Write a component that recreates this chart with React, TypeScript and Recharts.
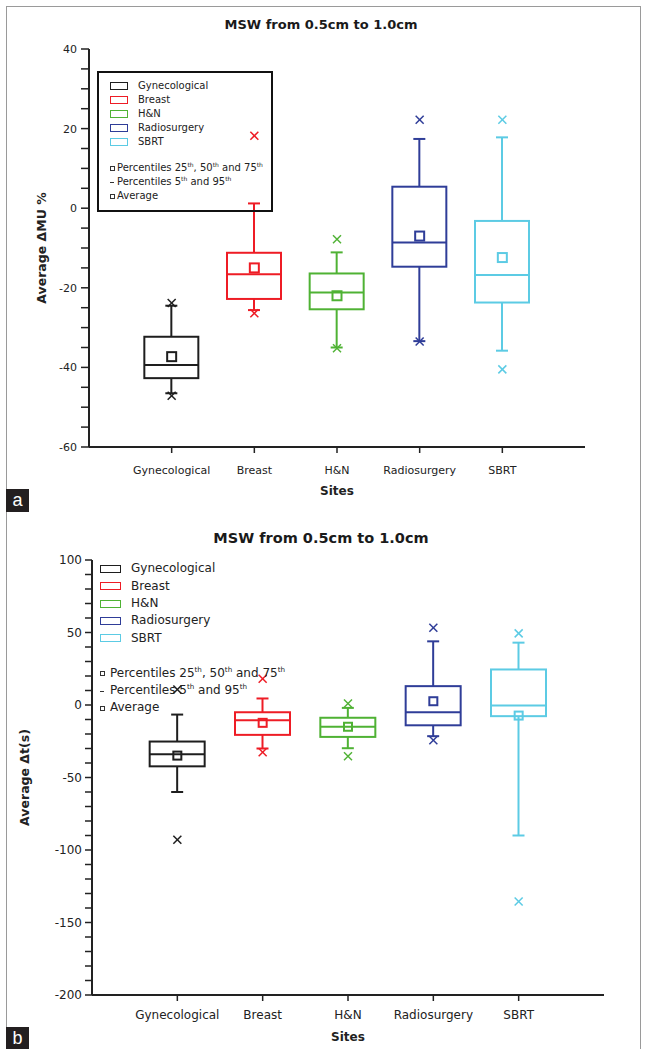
import React from 'react';
import { ComposedChart, Bar, Scatter, XAxis, YAxis, Legend, Label } from 'recharts';

const SITES = ['Gynecological', 'Breast', 'H&N', 'Radiosurgery', 'SBRT'];

const SITE_COLORS: Record<string, string> = {
  Gynecological: '#1e1e1e',
  Breast: '#ee1c25',
  'H&N': '#4fb234',
  Radiosurgery: '#2f3d98',
  SBRT: '#5ccbe4',
};

// (a) Average ΔMU %
const MU_P5 = [-46.5, -25.6, -35, -33.4, -35.8];
const MU_Q1 = [-42.7, -22.8, -25.4, -14.7, -23.7];
const MU_MEDIAN = [-39.4, -16.6, -21.2, -8.6, -16.8];
const MU_Q3 = [-32.3, -11.2, -16.4, 5.4, -3.2];
const MU_P95 = [-24.5, 1.2, -11.1, 17.4, 17.8];
const MU_MEAN = [-37.3, -15, -22, -7, -12.4];
const MU_MIN = [-47.1, -26.4, -35.2, -33.5, -40.5];
const MU_MAX = [-23.8, 18.2, -7.8, 22.2, 22.2];
const MU_TICKS = [-60, -40, -20, 0, 20, 40];

// (b) Average Δt(s)
const T_P5 = [-60, -30, -29.8, -21.5, -90];
const T_Q1 = [-42.3, -20.6, -22, -14, -7.7];
const T_MEDIAN = [-34, -10.5, -15, -5, -0.3];
const T_Q3 = [-25.2, -5, -8.8, 13, 24.5];
const T_P95 = [-6.6, 4.5, -2, 43.9, 43];
const T_MEAN = [-34.9, -12.3, -15, 2.6, -7.3];
const T_MIN = [-92.9, -32.6, -35.4, -24.3, -135.5];
const T_MAX = [10.7, 18.1, 1, 53.3, 49.4];
const T_TICKS = [-200, -150, -100, -50, 0, 50, 100];

const steps = (from: number, to: number, step: number) => {
  const out: number[] = [];
  for (let v = from; v <= to; v += step) out.push(v);
  return out;
};

const rowsOf = (p5: number[], q1: number[], median: number[], q3: number[], p95: number[], mean: number[], min: (number | null)[], max: (number | null)[]) =>
  SITES.map((name, i) => ({
    name,
    p5: p5[i],
    q1: q1[i],
    median: median[i],
    q3: q3[i],
    p95: p95[i],
    mean: mean[i],
    min: min[i],
    max: max[i],
  }));

const MU_ROWS = rowsOf(MU_P5, MU_Q1, MU_MEDIAN, MU_Q3, MU_P95, MU_MEAN, MU_MIN, MU_MAX);
const T_ROWS = rowsOf(T_P5, T_Q1, T_MEDIAN, T_Q3, T_P95, T_MEAN, T_MIN, T_MAX);

// ---- shapes ----
const makeWhisker = (cap: number) => (props: any) => {
  const { x, y, width, height, payload } = props;
  const color = SITE_COLORS[payload.name];
  const cx = x + width / 2;
  const top = Math.min(y, y + height);
  const bottom = Math.max(y, y + height);
  return (
    <g stroke={color} strokeWidth={2}>
      <line x1={cx} x2={cx} y1={top} y2={bottom} />
      <line x1={cx - cap / 2} x2={cx + cap / 2} y1={top} y2={top} />
      <line x1={cx - cap / 2} x2={cx + cap / 2} y1={bottom} y2={bottom} />
    </g>
  );
};

const BoxShape = (props: any) => {
  const { x, y, width, height, payload } = props;
  const top = Math.min(y, y + height);
  return (
    <rect x={x} y={top} width={width} height={Math.abs(height)} fill="#fff" stroke={SITE_COLORS[payload.name]} strokeWidth={2} />
  );
};

const makeMedian = (w: number) => (props: any) => {
  const { cx, cy, payload } = props;
  if (payload.median == null) return <g />;
  return <line x1={cx - w / 2} x2={cx + w / 2} y1={cy} y2={cy} stroke={SITE_COLORS[payload.name]} strokeWidth={2} />;
};

const makeMean = (s: number) => (props: any) => {
  const { cx, cy, payload } = props;
  if (payload.mean == null) return <g />;
  return <rect x={cx - s / 2} y={cy - s / 2} width={s} height={s} fill="none" stroke={SITE_COLORS[payload.name]} strokeWidth={2} />;
};

const makeCross = (key: 'min' | 'max', s: number) => (props: any) => {
  const { cx, cy, payload } = props;
  if (payload[key] == null) return <g />;
  const h = s / 2;
  return (
    <g stroke={SITE_COLORS[payload.name]} strokeWidth={1.5}>
      <line x1={cx - h} x2={cx + h} y1={cy - h} y2={cy + h} />
      <line x1={cx - h} x2={cx + h} y1={cy + h} y2={cy - h} />
    </g>
  );
};

// ---- legend ----
type LegendLayout = {
  fontSize: number;
  rowH: number;
  firstTop: number;
  swatchLeft: number;
  swatchW: number;
  swatchH: number;
  textLeft: number;
  notesTop: number;
  noteLeft: number;
  noteTextLeft: number;
  border: boolean;
};

const Sup = ({ children }: { children: React.ReactNode }) => (
  <sup style={{ fontSize: '0.6em', lineHeight: 0, verticalAlign: 'super' }}>{children}</sup>
);

const SiteLegend = ({ l }: { l: LegendLayout }) => {
  const mark = (kind: 'square' | 'dash') =>
    kind === 'square' ? (
      <span style={{ position: 'absolute', left: l.noteLeft, top: l.rowH / 2 - 2, width: 5, height: 5, border: '1px solid #333', boxSizing: 'border-box' }} />
    ) : (
      <span style={{ position: 'absolute', left: l.noteLeft, top: l.rowH / 2, width: 4, height: 1.2, background: '#333' }} />
    );
  return (
    <div
      style={{
        position: 'relative',
        width: '100%',
        height: '100%',
        boxSizing: 'border-box',
        border: l.border ? '2px solid #111' : 'none',
        fontSize: l.fontSize,
        color: '#222',
        lineHeight: `${l.rowH}px`,
        whiteSpace: 'nowrap',
      }}
    >
      {SITES.map((s, i) => (
        <div key={s} style={{ position: 'absolute', left: 0, top: l.firstTop + i * l.rowH, height: l.rowH, width: '100%' }}>
          <span
            style={{
              position: 'absolute',
              left: l.swatchLeft,
              top: (l.rowH - l.swatchH) / 2,
              width: l.swatchW,
              height: l.swatchH,
              border: `1.5px solid ${SITE_COLORS[s]}`,
              boxSizing: 'border-box',
            }}
          />
          <span style={{ position: 'absolute', left: l.textLeft }}>{s}</span>
        </div>
      ))}
      <div style={{ position: 'absolute', left: 0, top: l.notesTop, height: l.rowH, width: '100%' }}>
        {mark('square')}
        <span style={{ position: 'absolute', left: l.noteTextLeft }}>
          Percentiles 25<Sup>th</Sup>, 50<Sup>th</Sup> and 75<Sup>th</Sup>
        </span>
      </div>
      <div style={{ position: 'absolute', left: 0, top: l.notesTop + l.rowH, height: l.rowH, width: '100%' }}>
        {mark('dash')}
        <span style={{ position: 'absolute', left: l.noteTextLeft }}>
          Percentiles 5<Sup>th</Sup> and 95<Sup>th</Sup>
        </span>
      </div>
      <div style={{ position: 'absolute', left: 0, top: l.notesTop + 2 * l.rowH, height: l.rowH, width: '100%' }}>
        {mark('square')}
        <span style={{ position: 'absolute', left: l.noteTextLeft }}>Average</span>
      </div>
    </div>
  );
};

// ---- panel ----
type PanelProps = {
  top: number;
  height: number;
  margin: { top: number; right: number; bottom: number; left: number };
  yWidth: number;
  xHeight: number;
  domain: [number, number];
  minorTicks: number[];
  majorTicks: number[];
  rows: any[];
  yLabel: string;
  yLabelOffset: number;
  fontSize: number;
  labelSize: number;
  yTickSize: number;
  yTickMargin: number;
  xTickMargin: number;
  sitesOffset: number;
  boxWidth: number;
  meanSize: number;
  crossSize: number;
  legend: LegendLayout;
  legendStyle: React.CSSProperties;
};

const Panel = (p: PanelProps) => {
  const plotWidth = 645 - p.margin.left - p.margin.right - p.yWidth;
  const pad = plotWidth / 12;
  return (
    <div style={{ position: 'absolute', left: 0, top: p.top }}>
      <ComposedChart width={645} height={p.height} data={p.rows} margin={p.margin} barGap={-p.boxWidth}>
        <XAxis
          dataKey="name"
          type="category"
          interval={0}
          padding={{ left: pad, right: pad }}
          height={p.xHeight}
          tickSize={6}
          tickMargin={p.xTickMargin}
          axisLine={{ stroke: '#222', strokeWidth: 2 }}
          tickLine={{ stroke: '#222', strokeWidth: 1.5 }}
          tick={{ fontSize: p.fontSize, fill: '#222' }}
        >
          <Label value="Sites" position="insideBottom" offset={p.sitesOffset} style={{ fontWeight: 700, fontSize: p.labelSize - 0.5, fill: '#222' }} />
        </XAxis>
        <XAxis
          xAxisId="top"
          dataKey="name"
          type="category"
          orientation="top"
          interval={0}
          padding={{ left: pad, right: pad }}
          height={0}
          mirror
          tick={false}
          tickSize={6}
          axisLine={{ stroke: '#8a8a8a', strokeWidth: 1.5 }}
          tickLine={{ stroke: '#333', strokeWidth: 1.5 }}
        />
        <YAxis
          type="number"
          domain={p.domain}
          ticks={p.minorTicks}
          interval={0}
          width={p.yWidth}
          tickSize={p.yTickSize}
          tickMargin={p.yTickMargin}
          tickFormatter={(v: number) => (p.majorTicks.includes(v) ? String(v) : '')}
          axisLine={{ stroke: '#222', strokeWidth: 2 }}
          tickLine={{ stroke: '#222', strokeWidth: 1.5 }}
          tick={{ fontSize: p.fontSize, fill: '#222' }}
        >
          <Label
            value={p.yLabel}
            angle={-90}
            position="insideLeft"
            offset={p.yLabelOffset}
            style={{ textAnchor: 'middle', fontWeight: 700, fontSize: p.labelSize, fill: '#222' }}
          />
        </YAxis>
        <YAxis
          yAxisId="right"
          type="number"
          orientation="right"
          domain={p.domain}
          ticks={p.majorTicks}
          interval={0}
          width={0}
          mirror
          tick={false}
          tickSize={6}
          axisLine={{ stroke: '#333', strokeWidth: 2 }}
          tickLine={{ stroke: '#333', strokeWidth: 1.5 }}
        />
        <Legend
          layout="vertical"
          align="center"
          verticalAlign="middle"
          wrapperStyle={p.legendStyle}
          content={() => <SiteLegend l={p.legend} />}
        />
        <Bar dataKey={(d: any) => [d.p5, d.p95]} barSize={p.boxWidth} shape={makeWhisker(12)} isAnimationActive={false} />
        <Bar dataKey={(d: any) => [d.q1, d.q3]} barSize={p.boxWidth} shape={BoxShape} isAnimationActive={false} />
        <Scatter dataKey="median" shape={makeMedian(p.boxWidth)} isAnimationActive={false} />
        <Scatter dataKey="mean" shape={makeMean(p.meanSize)} isAnimationActive={false} />
        <Scatter dataKey="max" shape={makeCross('max', p.crossSize)} isAnimationActive={false} />
        <Scatter dataKey="min" shape={makeCross('min', p.crossSize)} isAnimationActive={false} />
      </ComposedChart>
    </div>
  );
};

const Title = ({ y, size }: { y: number; size: number }) => (
  <div style={{ position: 'absolute', left: 0, width: 642, top: y - 10, height: 20, lineHeight: '20px', textAlign: 'center', fontWeight: 700, fontSize: size, color: '#1a1a1a' }}>
    MSW from 0.5cm to 1.0cm
  </div>
);

const PanelTag = ({ text, top, h }: { text: string; top: number; h: number }) => (
  <div style={{ position: 'absolute', left: 6, top, width: 23, height: h, background: '#231f20', color: '#fff', fontFamily: 'Liberation Sans, Arial, sans-serif', fontSize: 18, lineHeight: `${h}px`, textAlign: 'center' }}>
    {text}
  </div>
);

export default function App() {
  return (
    <div
      style={{
        position: 'absolute',
        left: 0,
        top: 0,
        width: 645,
        height: 1049,
        background: '#fff',
        overflow: 'hidden',
        fontFamily: '"DejaVu Sans", Verdana, sans-serif',
      }}
    >
      <div style={{ position: 'absolute', left: 6, top: 6, width: 635, height: 1100, border: '1.5px solid #9a9a9a', boxSizing: 'border-box' }} />
      <Title y={25} size={13} />
      <Panel
        top={0}
        height={510}
        margin={{ top: 49, right: 60, bottom: 13, left: 0 }}
        yWidth={89}
        xHeight={50}
        domain={[-60, 40]}
        minorTicks={steps(-60, 40, 5)}
        majorTicks={MU_TICKS}
        rows={MU_ROWS}
        yLabel="Average ΔMU %"
        yLabelOffset={42}
        fontSize={11}
        labelSize={12.5}
        yTickSize={8}
        yTickMargin={4}
        xTickMargin={13}
        sitesOffset={2}
        boxWidth={54}
        meanSize={9}
        crossSize={8}
        legend={{
          fontSize: 10,
          rowH: 14,
          firstTop: 6,
          swatchLeft: 11,
          swatchW: 18,
          swatchH: 8,
          textLeft: 39,
          notesTop: 88,
          noteLeft: 11,
          noteTextLeft: 18,
          border: true,
        }}
        legendStyle={{ left: 97, top: 71, width: 176, height: 141 }}
      />
      <Title y={538} size={14.5} />
      <Panel
        top={515}
        height={534}
        margin={{ top: 45, right: 41, bottom: 4, left: 0 }}
        yWidth={92}
        xHeight={50}
        domain={[-200, 100]}
        minorTicks={steps(-200, 100, 10)}
        majorTicks={T_TICKS}
        rows={T_ROWS}
        yLabel="Average Δt(s)"
        yLabelOffset={25}
        fontSize={12}
        labelSize={12.5}
        yTickSize={7}
        yTickMargin={3}
        xTickMargin={9}
        sitesOffset={4}
        boxWidth={55}
        meanSize={8}
        crossSize={8}
        legend={{
          fontSize: 12,
          rowH: 17.3,
          firstTop: 5.4,
          swatchLeft: 2,
          swatchW: 21,
          swatchH: 8,
          textLeft: 33,
          notesTop: 109.6,
          noteLeft: 2,
          noteTextLeft: 12,
          border: false,
        }}
        legendStyle={{ left: 98, top: 40, width: 300, height: 160 }}
      />
      <PanelTag text="a" top={489} h={23} />
      <PanelTag text="b" top={1027} h={22} />
    </div>
  );
}
